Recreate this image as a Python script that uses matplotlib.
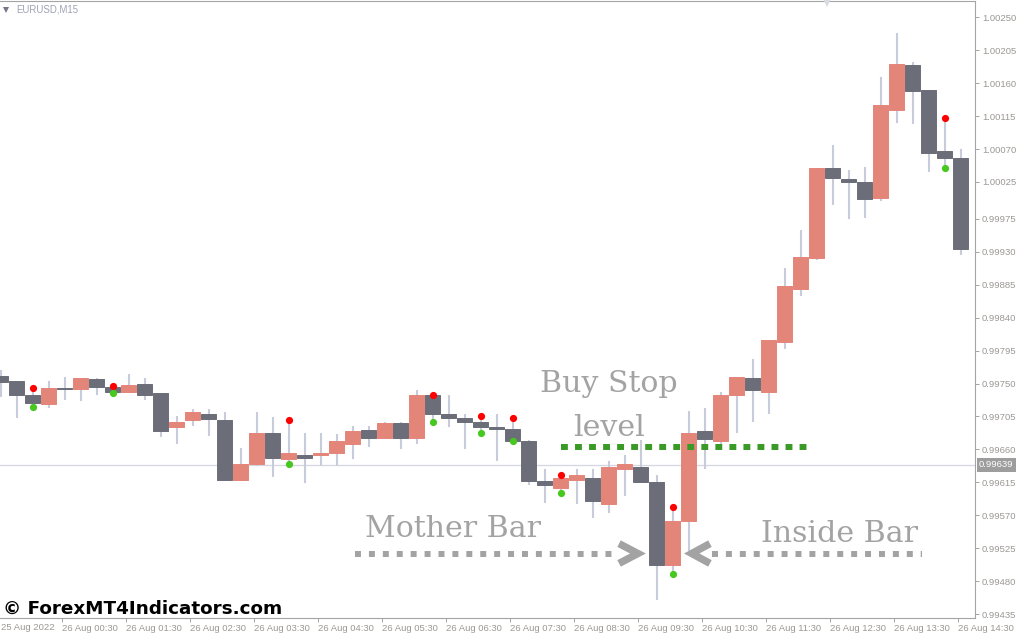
import matplotlib
matplotlib.use("Agg")
import matplotlib.pyplot as plt
import matplotlib.transforms as mtransforms
import numpy as np

# EURUSD M15, one bar every 15 minutes from 25 Aug 23:30 to 26 Aug 14:30
opens = [0.99760, 0.99754, 0.99735, 0.99722, 0.99744, 0.99742, 0.99756, 0.99745, 0.99739, 0.99750,
         0.99737, 0.99690, 0.99700, 0.99709, 0.99700, 0.99619, 0.99640, 0.99683, 0.99647, 0.99653,
         0.99652, 0.99655, 0.99668, 0.99686, 0.99675, 0.99696, 0.99675, 0.99734, 0.99709, 0.99703,
         0.99698, 0.99690, 0.99688, 0.99671, 0.99617, 0.99608, 0.99618, 0.99621, 0.99585, 0.99633,
         0.99636, 0.99615, 0.99503, 0.99563, 0.99685, 0.99671, 0.99734, 0.99757, 0.99739, 0.99806,
         0.99879, 0.99921, 1.00044, 1.00029, 1.00025, 1.00003, 1.00123, 1.00184, 1.00150, 1.00067,
         1.00058]
highs = [0.99769, 0.99754, 0.99744, 0.99754, 0.99759, 0.99757, 0.99757, 0.99746, 0.99763, 0.99757,
         0.99737, 0.99705, 0.99715, 0.99715, 0.99711, 0.99662, 0.99711, 0.99704, 0.99700, 0.99682,
         0.99683, 0.99681, 0.99692, 0.99692, 0.99697, 0.99697, 0.99741, 0.99734, 0.99735, 0.99709,
         0.99705, 0.99708, 0.99703, 0.99673, 0.99634, 0.99625, 0.99633, 0.99633, 0.99644, 0.99653,
         0.99673, 0.99625, 0.99582, 0.99713, 0.99716, 0.99739, 0.99759, 0.99783, 0.99810, 0.99907,
         0.99959, 1.00044, 1.00075, 1.00041, 1.00045, 1.00168, 1.00228, 1.00189, 1.00150, 1.00112,
         1.00070]
lows = [0.99731, 0.99703, 0.99718, 0.99716, 0.99727, 0.99726, 0.99734, 0.99737, 0.99737, 0.99727,
        0.99677, 0.99668, 0.99692, 0.99678, 0.99618, 0.99618, 0.99637, 0.99622, 0.99640, 0.99614,
        0.99637, 0.99637, 0.99647, 0.99663, 0.99674, 0.99660, 0.99668, 0.99698, 0.99690, 0.99660,
        0.99683, 0.99644, 0.99671, 0.99611, 0.99587, 0.99600, 0.99585, 0.99566, 0.99573, 0.99596,
        0.99614, 0.99454, 0.99490, 0.99522, 0.99634, 0.99664, 0.99682, 0.99698, 0.99708, 0.99797,
        0.99870, 0.99918, 0.99993, 0.99974, 0.99976, 0.99999, 1.00105, 1.00104, 1.00038, 1.00044,
        0.99926]
closes = [0.99752, 0.99735, 0.99723, 0.99744, 0.99742, 0.99757, 0.99745, 0.99738, 0.99748, 0.99735,
          0.99685, 0.99698, 0.99711, 0.99701, 0.99619, 0.99640, 0.99683, 0.99648, 0.99655, 0.99649,
          0.99655, 0.99671, 0.99685, 0.99675, 0.99696, 0.99675, 0.99735, 0.99709, 0.99703, 0.99697,
          0.99690, 0.99688, 0.99671, 0.99617, 0.99611, 0.99621, 0.99625, 0.99589, 0.99636, 0.99640,
          0.99615, 0.99502, 0.99563, 0.99683, 0.99674, 0.99735, 0.99759, 0.99741, 0.99809, 0.99883,
          0.99922, 1.00044, 1.00030, 1.00025, 1.00002, 1.00130, 1.00186, 1.00149, 1.00064, 1.00058,
          0.99933]

# bars flagged by the inside bar indicator
inside_bars = [2, 7, 18, 27, 30, 32, 35, 42, 59]
mother_bar = 41
inside_bar = 42
buy_stop_level = 0.99664
bid_price = 0.99639

price_ticks = [0.99435, 0.99480, 0.99525, 0.99570, 0.99615, 0.99660, 0.99705, 0.99750, 0.99795,
               0.99840, 0.99885, 0.99930, 0.99975, 1.00025, 1.00070, 1.00115, 1.00160, 1.00205,
               1.00250]
time_labels = ["25 Aug 2022", "26 Aug 00:30", "26 Aug 01:30", "26 Aug 02:30", "26 Aug 03:30",
               "26 Aug 04:30", "26 Aug 05:30", "26 Aug 06:30", "26 Aug 07:30", "26 Aug 08:30",
               "26 Aug 09:30", "26 Aug 10:30", "26 Aug 11:30", "26 Aug 12:30", "26 Aug 13:30",
               "26 Aug 14:30"]

W, H = 1018, 639
fig = plt.figure(figsize=(W / 100, H / 100), dpi=100)
ax = fig.add_axes([0, (H - 618) / H, 975 / W, 617 / H])
pix = mtransforms.Affine2D().scale(1 / W, -1 / H).translate(0, 1) + fig.transFigure

axis_col = "#a4a4a4"
lab_col = "#9b9893"
lab_font = "Liberation Sans"

o = np.array(opens)
c = np.array(closes)
hi = np.array(highs)
lo = np.array(lows)
x = np.arange(len(o))
up = c >= o
cols = np.where(up, "#e4857a", "#6b6e78")
body_lo = np.minimum(o, c)
body_h = np.maximum(np.abs(c - o), 0.00002)

ax.axhline(bid_price, color="#d4d7e1", lw=0.9, zorder=0.5)
ax.vlines(x, lo, hi, color="#c8ccda", lw=1.5, zorder=1)
ax.bar(x, body_h, bottom=body_lo, width=0.88, color=cols, edgecolor=cols, linewidth=0.7, zorder=2)
ax.plot(x[inside_bars], hi[inside_bars], "o", color="#ff0000", ms=5.2, mew=0, zorder=3)
ax.plot(x[inside_bars], lo[inside_bars], "o", color="#46c81e", ms=5.2, mew=0, zorder=3)

ax.set_xlim(-0.03125, 60.906)
ax.set_ylim(0.99430, 1.00272)

# axes look
ax.spines["left"].set_visible(False)
for s in ["right", "bottom", "top"]:
    ax.spines[s].set_color(axis_col)
    ax.spines[s].set_linewidth(0.8)
ax.yaxis.tick_right()
ax.set_yticks(price_ticks)
ax.set_yticklabels([f"{p:.5f}" for p in price_ticks])
ax.tick_params(axis="y", direction="out", length=3, width=0.7, color=axis_col,
               labelsize=6.8, labelcolor=lab_col, pad=2)
# first bar's tick falls just left of the plot, so its label is drawn by hand
xt = np.arange(4, len(o), 4) - 0.16
ax.set_xticks(xt)
ax.set_xticklabels(time_labels[1:])
ax.tick_params(axis="x", direction="out", length=3, width=0.7, color=axis_col,
               labelsize=6.8, labelcolor=lab_col, pad=1.5)
for lab in ax.get_xticklabels() + ax.get_yticklabels():
    lab.set_fontfamily(lab_font)
for lab in ax.get_xticklabels():
    lab.set_ha("left")
fig.text(1, 627, time_labels[0], transform=pix, fontsize=6.8, color=lab_col,
         family=lab_font, ha="left", va="center")

# bid price label
bt = mtransforms.blended_transform_factory(ax.transAxes, ax.transData)
ax.text(1.004, bid_price, f"{bid_price:.5f}", transform=bt, ha="left", va="center",
        fontsize=6.8, color="white", family=lab_font, clip_on=False,
        bbox=dict(boxstyle="square,pad=0.25", fc="#9d9d9d", ec="none"))

# symbol header
fig.text(16, 9.5, "EURUSD,M15", transform=pix, fontsize=6.9, color="#9ea3b3",
         family=lab_font, ha="left", va="center")
fig.lines.append(plt.Line2D([6], [9.5], marker="v", ms=4, color="#737787", mew=0, transform=pix))
fig.lines.append(plt.Line2D([827], [2], marker="v", ms=7, color="#d8dbe3", mew=0, transform=pix))

# annotations
ann_col = "#a3a3a3"
arrow_price = 0.99518
serif = dict(family="DejaVu Serif", fontsize=21.6, color=ann_col, ha="center", va="baseline")
ax.text(38.03, 0.99738, "Buy Stop", **serif)
ax.text(38.03, 0.99679, "level", **serif)
ax.text(28.31, 0.99540, "Mother Bar", **serif)
ax.text(52.41, 0.99534, "Inside Bar", **serif)

ax.plot([35.0, 50.7], [buy_stop_level] * 2, color="#3a9a26", lw=4.3,
        dashes=(1.15, 1.2), dash_capstyle="butt", zorder=2.5)
ax.plot([22.15, 38.55], [arrow_price] * 2, color=ann_col, lw=4.3,
        dashes=(1.0, 1.33), dash_capstyle="butt", zorder=2.5)
ax.plot([44.47, 57.59], [arrow_price] * 2, color=ann_col, lw=4.3,
        dashes=(1.0, 1.33), dash_capstyle="butt", zorder=2.5)
d = 0.000135
ax.plot([mother_bar - 2.34, mother_bar - 1.16, mother_bar - 2.34],
        [arrow_price + d, arrow_price, arrow_price - d], color=ann_col, lw=5.3,
        solid_joinstyle="miter", solid_capstyle="butt", zorder=2.5)
ax.plot([inside_bar + 2.34, inside_bar + 1.2, inside_bar + 2.34],
        [arrow_price + d, arrow_price, arrow_price - d], color=ann_col, lw=5.3,
        solid_joinstyle="miter", solid_capstyle="butt", zorder=2.5)

# watermark
fig.text(3, 614, "\u00a9 ForexMT4Indicators.com", transform=pix, fontsize=13.2,
         fontweight="bold", family="DejaVu Sans", color="black", ha="left", va="baseline")

fig.savefig("out.png", dpi=100)
